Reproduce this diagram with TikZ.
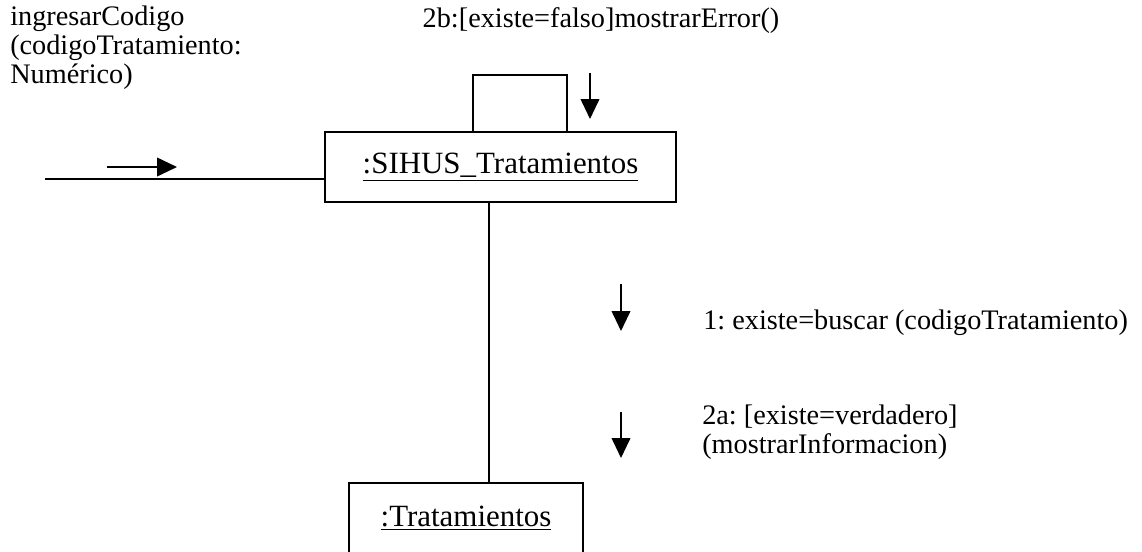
\documentclass[tikz,border=0pt]{standalone}
\usepackage{fontspec}
\setmainfont{Liberation Serif}
\usetikzlibrary{arrows.meta,positioning}
\frenchspacing

\tikzset{
  objbox/.style={draw, line width=1.4pt, inner sep=0pt, font=\fontsize{23.2}{26}\selectfont},
  link/.style={line width=1.4pt},
  msgarrow/.style={line width=1.4pt, -{Triangle[length=15pt,width=14pt]}},
  msglabel/.style={inner sep=0pt, align=left, font=\fontsize{21.2}{21.5}\selectfont}
}

\begin{document}
\begin{tikzpicture}[x=0.75pt, y=-0.75pt]
    \useasboundingbox (0,0) rectangle (1142,551);
    \clip (0,0) rectangle (1142,551);

    % objects
    \node[objbox, minimum width=263pt, minimum height=52.5pt]
      (sihus) at (500.5,167) {\underline{:SIHUS\_Tratamientos}};
    \node[objbox, minimum width=175.5pt, minimum height=52.5pt]
      (trat) at (466,518) {\underline{:Tratamientos}};

    % incoming message
    \coordinate (start) at (45,179);
    \draw[link] (start) -- (sihus.west |- start);
    \node[msglabel, anchor=base west] (ingresar) at (10,83)
      {ingresarCodigo\\(codigoTratamiento:\\Numérico)};
    \draw[msgarrow] (107,167) -- (177,167);

    % self link
    \coordinate (loopl) at (473,75);
    \coordinate (loopr) at (567,75);
    \draw[link] (sihus.north -| loopl) -- (loopl) -- (loopr) -- (sihus.north -| loopr);
    \node[msglabel, anchor=base] (error) at (601,27) {2b:[existe=falso]mostrarError()};
    \draw[msgarrow] (590,73) -- (590,119);

    % link between objects
    \coordinate (lk) at (489,0);
    \draw[link] (sihus.south -| lk) -- (trat.north -| lk);

    % messages to Tratamientos
    \node[msglabel, anchor=base west] (buscar) at (703,329)
      {1: existe=buscar (codigoTratamiento)};
    \draw[msgarrow] (621,284) -- (621,331);
    \node[msglabel, anchor=base west] (mostrar) at (702,453)
      {2a: [existe=verdadero]\\(mostrarInformacion)};
    \draw[msgarrow] (621,412) -- (621,458);
\end{tikzpicture}
\end{document}
